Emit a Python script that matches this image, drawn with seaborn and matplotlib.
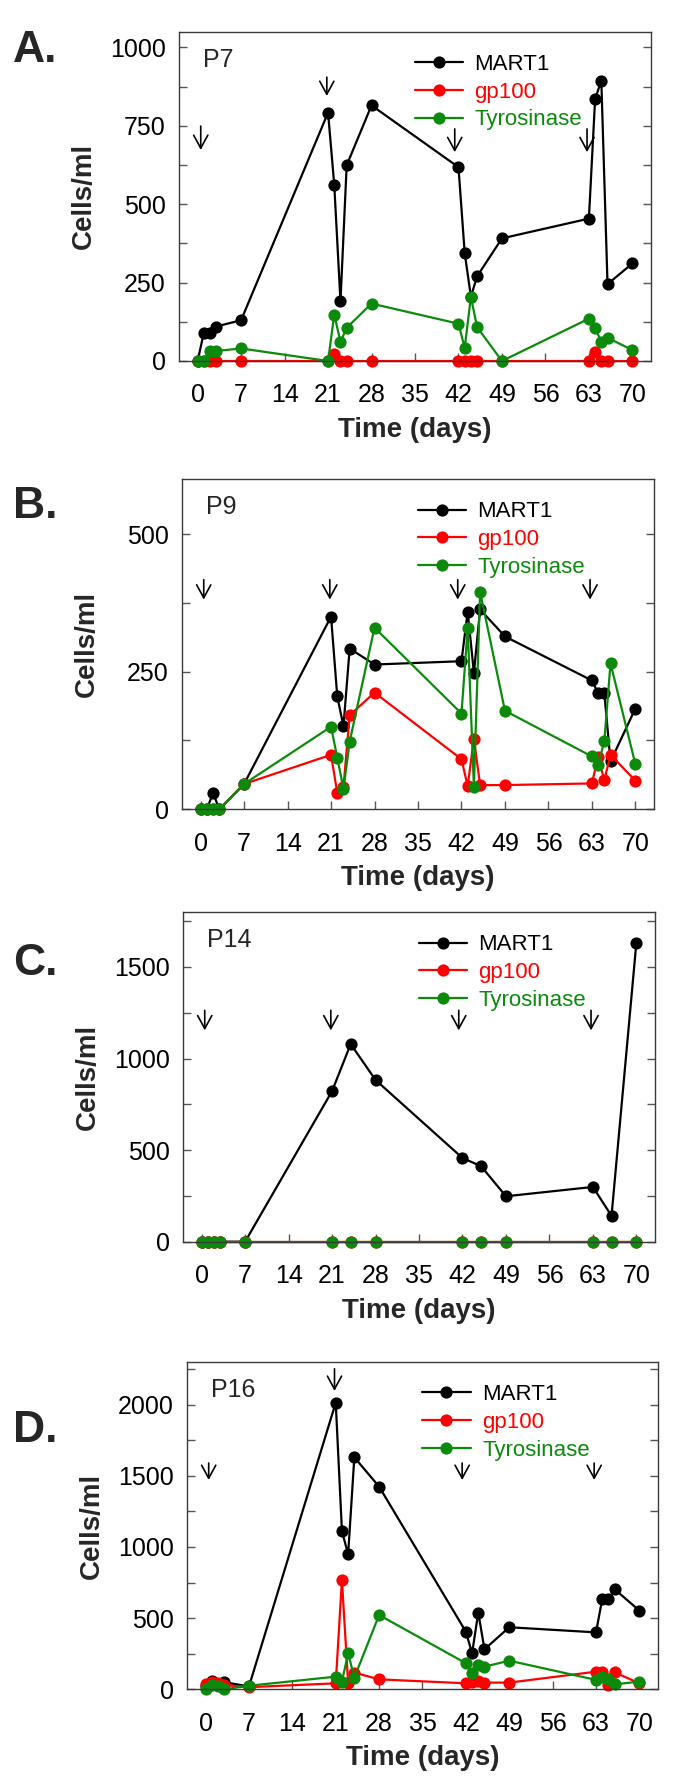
import numpy as np
import pandas as pd
import matplotlib
matplotlib.use("Agg")
import matplotlib.pyplot as plt
import seaborn as sns
from matplotlib.ticker import MultipleLocator, FixedLocator

# ---------------- data ----------------
days = [0, 1, 2, 3, 7, 21, 22, 23, 24, 28, 42, 43, 44, 45, 49, 63, 64, 65, 66, 70]
days_p14 = [0, 1, 2, 3, 7, 21, 24, 28, 42, 45, 49, 63, 66, 70]

p7_mart1 = [0, 90, 88, 110, 130, 792, 561, 190, 624, 815, 618, 345, 205, 270, 391, 454, 835, 894, 245, 311]
p7_gp100 = [0, 0, 0, 0, 0, 0, 22, 0, 0, 0, 0, 0, 0, 0, 0, 0, 30, 0, 0, 0]
p7_tyr = [0, 0, 32, 32, 40, 0, 148, 61, 106, 183, 119, 42, 204, 108, 0, 135, 106, 61, 74, 35]

p9_mart1 = [0, 0, 30, 0, 46, 350, 205, 151, 292, 263, 269, 359, 248, 363, 314, 234, 211, 211, 87, 183]
p9_gp100 = [0, 0, 0, 0, 46, 99, 30, 40, 171, 212, 91, 42, 128, 44, 44, 47, 95, 53, 99, 52]
p9_tyr = [0, 0, 0, 0, 46, 150, 94, 37, 123, 330, 174, 329, 41, 395, 179, 96, 80, 124, 265, 82]

p14_mart1 = [0, 0, 0, 0, 0, 822, 1079, 883, 457, 412, 248, 299, 141, 1632]
p14_gp100 = [0, 0, 0, 0, 0, 0, 0, 0, 0, 0, 0, 0, 0, 0]
p14_tyr = [0, 0, 0, 0, 0, 0, 0, 0, 0, 0, 0, 0, 0, 0]

p16_mart1 = [20, 55, 40, 50, 20, 2014, 1112, 948, 1630, 1424, 405, 253, 539, 281, 436, 400, 635, 635, 703, 553]
p16_gp100 = [35, 50, 45, 30, 15, 42, 768, 42, 117, 70, 42, 50, 60, 47, 47, 124, 124, 30, 119, 42]
p16_tyr = [5, 30, 20, 0, 25, 89, 54, 253, 82, 522, 183, 117, 171, 159, 201, 66, 89, 70, 35, 54]

series_names = ["MART1", "gp100", "Tyrosinase"]
series_colors = ["#000000", "#ff0000", "#0c8a0c"]
x_ticks = [0, 7, 14, 21, 28, 35, 42, 49, 56, 63, 70]
infusion_days = [0.5, 20.8, 41.4, 62.7]

panels = [
    dict(letter="A.", patient="P7", days=days, vals=[p7_mart1, p7_gp100, p7_tyr],
         ymax=1050, major=250, minor=125,
         arrows=[(749, 673), (905, 845), (740, 666), (740, 666)],
         box=(179, 31.7, 651, 361), letter_y=51),
    dict(letter="B.", patient="P9", days=days, vals=[p9_mart1, p9_gp100, p9_tyr],
         ymax=600, major=250, minor=125,
         arrows=[(417, 381)] * 4,
         box=(182, 479, 654, 809.3), letter_y=506),
    dict(letter="C.", patient="P14", days=days_p14, vals=[p14_mart1, p14_gp100, p14_tyr],
         ymax=1800, major=500, minor=250,
         arrows=[(1263, 1154)] * 4,
         box=(183, 912, 655, 1241.7), letter_y=964),
    dict(letter="D.", patient="P16", days=days, vals=[p16_mart1, p16_gp100, p16_tyr],
         ymax=2300, major=500, minor=250,
         arrows=[(1590, 1471), (2252, 2097), (1590, 1471), (1590, 1471)],
         box=(187, 1362, 658, 1689.3), letter_y=1430),
]

# ---------------- style ----------------
sns.set_theme(style="white")
plt.rcParams["font.family"] = ["Liberation Sans", "DejaVu Sans"]

W, H = 685, 1778
fig = plt.figure(figsize=(W / 100, H / 100), dpi=100)
spine_col = "#3a3a3a"

for p in panels:
    x0, y0, x1, y1 = p["box"]
    ax = fig.add_axes([x0 / W, 1 - y1 / H, (x1 - x0) / W, (y1 - y0) / H])
    for name, col, vals in zip(series_names, series_colors, p["vals"]):
        df = pd.DataFrame({"day": p["days"], "cells": vals})
        sns.lineplot(data=df, x="day", y="cells", ax=ax, color=col, marker="o",
                     markersize=8.8, markeredgewidth=0, linewidth=1.6,
                     label=name, clip_on=False, legend=False, errorbar=None)
    ax.set_xlim(-3, 73)
    ax.set_ylim(0, p["ymax"])
    ax.xaxis.set_major_locator(FixedLocator(x_ticks))
    ax.yaxis.set_major_locator(MultipleLocator(p["major"]))
    ax.yaxis.set_minor_locator(MultipleLocator(p["minor"]))
    ax.tick_params(axis="both", which="both", direction="in", color="#555555",
                   width=1.0, labelsize=18, labelcolor="black")
    ax.tick_params(axis="y", which="both", left=True, right=True, length=6, pad=9.5)
    ax.tick_params(axis="x", which="both", bottom=True, top=False, length=6, pad=16)
    for s in ax.spines.values():
        s.set_color(spine_col)
        s.set_linewidth(1.0)
    ax.set_xlabel("Time (days)", fontsize=20, fontweight="bold", labelpad=7)
    ax.set_ylabel("Cells/ml", fontsize=20, fontweight="bold")
    ax.yaxis.label.set_va("center")
    ax.yaxis.set_label_coords(-0.201, 0.5)
    ax.text(0.05, 0.915, p["patient"], transform=ax.transAxes, fontsize=18,
            ha="left", va="center")
    for d, (ytop, ytip) in zip(infusion_days, p["arrows"]):
        ax.annotate("", xy=(d, ytip), xytext=(d, ytop),
                    arrowprops=dict(arrowstyle="->,head_length=0.55,head_width=0.3",
                                    lw=1.2, color="black", shrinkA=0, shrinkB=0,
                                    mutation_scale=17))
    leg = ax.legend(loc="upper left", bbox_to_anchor=(0.499, 0.932), frameon=False,
                    fontsize=16, handlelength=2.2, handletextpad=0.5,
                    labelspacing=0.3, borderpad=0, borderaxespad=0,
                    numpoints=1, labelcolor="linecolor")
    fig.text(13 / W, 1 - p["letter_y"] / H, p["letter"], fontsize=32,
             fontweight="bold", ha="left", va="center")

fig.savefig("out.png", dpi=100)
